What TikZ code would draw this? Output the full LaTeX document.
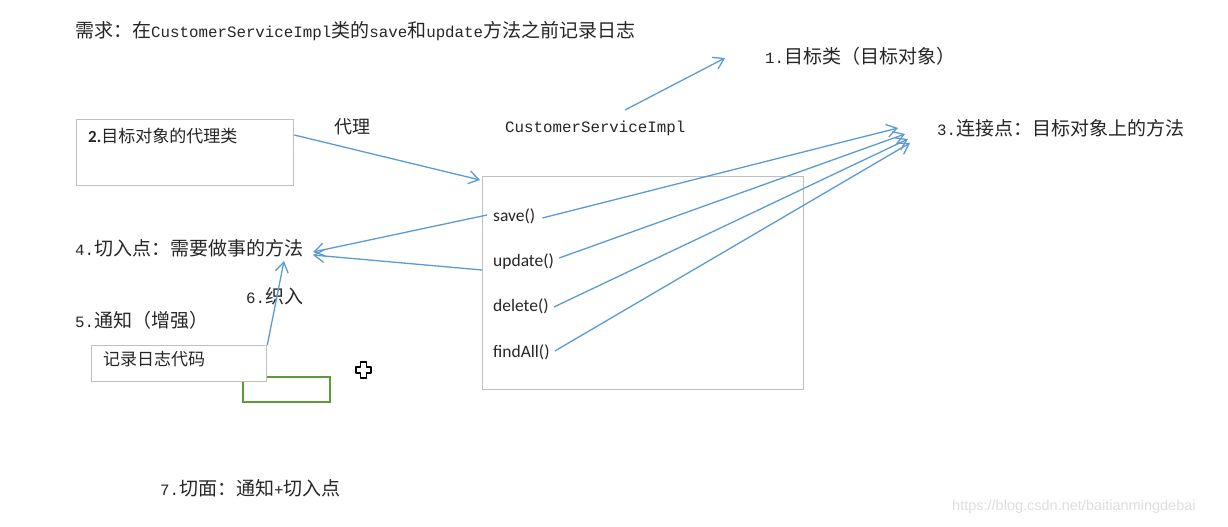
\documentclass[tikz,border=0pt]{standalone}
\usepackage{fontspec}
\setmainfont{Liberation Serif}
\newfontfamily\cjkfont{Noto Sans CJK SC}
\newfontfamily\monofont{Liberation Mono}
\newfontfamily\calfont{Carlito}
\newfontfamily\wmfont{Liberation Sans}
\usetikzlibrary{arrows.meta}
\definecolor{arrowblue}{HTML}{5B9BD5}
\definecolor{boxgray}{HTML}{BFBFBF}
\definecolor{txt}{HTML}{262626}
\definecolor{grn}{HTML}{5E9B38}
\newcommand\lat[1]{{\monofont\fontsize{15.8}{22}\selectfont #1}}
\tikzset{
  lab/.style={font=\cjkfont\fontsize{19}{22}\selectfont, anchor=west, inner sep=0pt, text=txt},
  sanslab/.style={font=\cjkfont\fontsize{17}{20}\selectfont, anchor=west, inner sep=0pt, text=txt},
  meth/.style={font=\calfont\fontsize{17.5}{20}\selectfont, anchor=west, inner sep=0pt, text=txt},
  boxnode/.style={draw=boxgray, line width=1.3pt, fill=white, anchor=north west, inner sep=0pt},
  conn/.style={draw=arrowblue, line width=1.3pt, -{Straight Barb[length=10pt,width=13pt,line width=1.3pt]}},
}
\begin{document}
\begin{tikzpicture}[x=1pt,y=-1pt]
\useasboundingbox[fill=white] (0,0) rectangle (1228,527);

% title
\node[lab] (title) at (75,31) {需求：在\lat{CustomerServiceImpl}类的\lat{save}和\lat{update}方法之前记录日志};

% 1. target class
\node[lab] (t1) at (765,56) {\lat{1.}目标类（目标对象）};
\node[font=\monofont\fontsize{15.8}{20}\selectfont, anchor=west, inner sep=0pt, text=txt] (csi) at (505,128) {CustomerServiceImpl};
\coordinate (a1s) at (625,110);
\coordinate (a1e) at (725,58);
\draw[conn] (a1s) -- (a1e);

% 2. proxy box
\node[boxnode, minimum width=217pt, minimum height=66pt] (proxy) at (76,119) {};
\node[sanslab] (proxyt) at (88,136) {{\calfont\bfseries 2.}目标对象的代理类};
\node[sanslab, font=\cjkfont\fontsize{18}{20}\selectfont] (dl) at (334,127) {代理};

% big box
\node[boxnode, minimum width=321pt, minimum height=213pt] (impl) at (482,176) {};
\node[meth] (save) at (493,216) {save()};
\node[meth] (update) at (493,262) {update()};
\node[meth] (delete) at (493,306) {delete()};
\node[meth] (findall) at (493,352) {findAll()};

\coordinate (pe) at (480,180);
\draw[conn] (proxy.east |- 0,135) -- (pe);

% 3. join points
\node[lab] (t3) at (937,128) {\lat{3.}连接点：目标对象上的方法};
\coordinate (j1) at (898,128);
\coordinate (j2) at (905,134);
\coordinate (j3) at (908,139);
\coordinate (j4) at (910,143);
\draw[conn] ([xshift=7pt,yshift=-2pt]save.east) -- (j1);
\draw[conn] ([xshift=5pt,yshift=4pt]update.east) -- (j2);
\draw[conn] ([xshift=5pt,yshift=-1pt]delete.east) -- (j3);
\draw[conn] ([xshift=5pt,yshift=1pt]findall.east) -- (j4);

% 4. pointcut
\node[lab] (t4) at (75,248) {\lat{4.}切入点：需要做事的方法};
\coordinate (p1) at (313,252);
\coordinate (p2) at (313,255);
\draw[conn] ([xshift=-6pt,yshift=1pt]save.west) -- (p1);
\draw[conn] (impl.west |- 0,270) -- (p2);

% 5, 6 advice / weaving
\node[lab] (t6) at (246,296) {\lat{6.}织入};
\node[lab] (t5) at (75,320) {\lat{5.}通知（增强）};
\draw[grn, line width=2.4pt] (243,377) rectangle (330,402);
\node[boxnode, minimum width=175pt, minimum height=36pt] (advice) at (91,345) {};
\node[sanslab] (advicet) at (103,359) {记录日志代码};
\coordinate (w1) at (284,261);
\draw[conn] (advice.north east) -- (w1);

% cursor
\draw[black, line width=1.8pt, fill=white, line join=round]
  (360.5,362) -- (366.5,362) -- (366.5,367) -- (371,367) -- (371,373) -- (366.5,373)
  -- (366.5,378) -- (360.5,378) -- (360.5,373) -- (356,373) -- (356,367) -- (360.5,367) -- cycle;

% 7. aspect
\node[lab] (t7) at (160,488) {\lat{7.}切面：通知\lat{+}切入点};

% watermark
\node[font=\wmfont\fontsize{14.5}{16}\selectfont, text=black!13, anchor=west, inner sep=0pt] (wm) at (952,507) {https://blog.csdn.net/baitianmingdebai};
\end{tikzpicture}
\end{document}
